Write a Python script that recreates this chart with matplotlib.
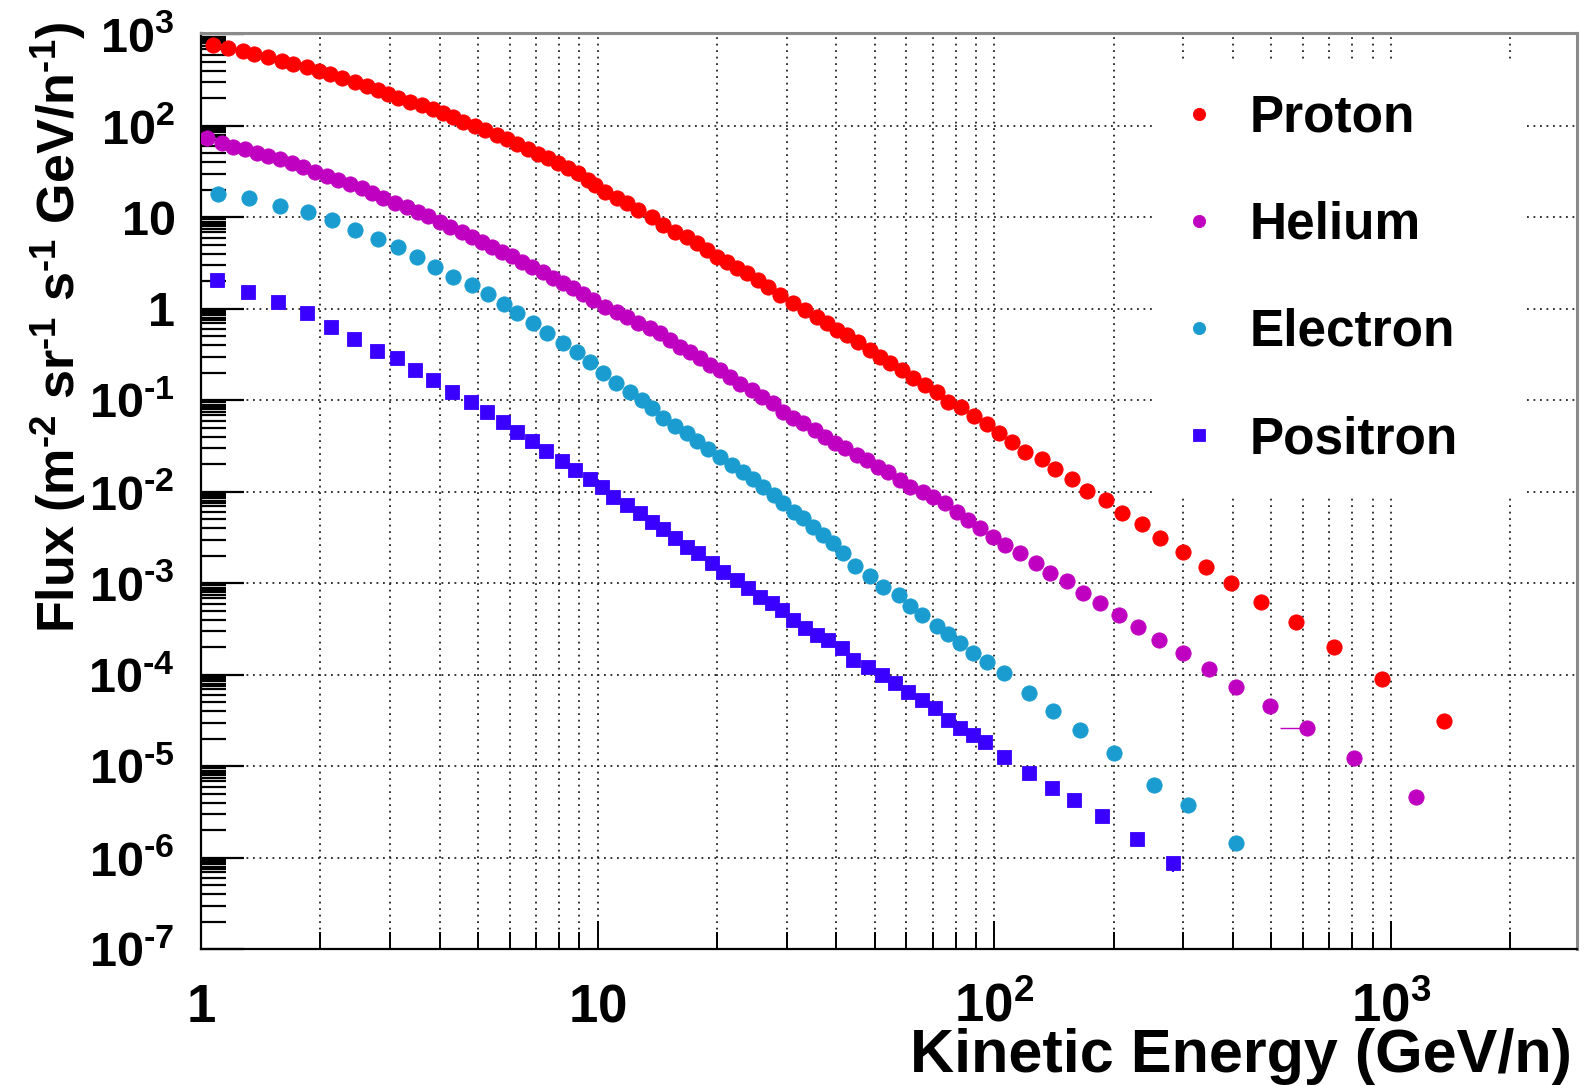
import numpy as np
import matplotlib
matplotlib.use("Agg")
import matplotlib.pyplot as plt
from matplotlib.ticker import FixedLocator, LogLocator, NullFormatter

plt.rcParams['font.family'] = ['Liberation Sans', 'DejaVu Sans']
plt.rcParams['font.weight'] = 'bold'
plt.rcParams['mathtext.fontset'] = 'custom'
plt.rcParams['mathtext.rm'] = 'Liberation Sans:bold'
plt.rcParams['mathtext.it'] = 'Liberation Sans:bold'
plt.rcParams['mathtext.bf'] = 'Liberation Sans:bold'
plt.rcParams['mathtext.default'] = 'rm'

# ---- flux spectra (kinetic energy in GeV/n, flux in m^-2 sr^-1 s^-1 (GeV/n)^-1) ----
proton_E = [1.074, 1.172, 1.279, 1.363, 1.478, 1.598, 1.710, 1.847, 1.985, 2.115,
            2.263, 2.446, 2.617, 2.802, 2.969, 3.146, 3.366, 3.602, 3.855, 4.086,
            4.329, 4.588, 4.911, 5.204, 5.569, 5.902, 6.254, 6.693, 7.093, 7.516,
            7.965, 8.441, 8.948, 9.483, 9.86, 10.45, 11.18, 11.85, 12.68, 13.70,
            14.66, 15.69, 16.79, 17.79, 18.85, 19.98, 21.17, 22.44, 23.78, 25.44,
            26.97, 28.86, 31.18, 33.37, 35.70, 37.84, 40.11, 42.50, 45.48, 48.69,
            51.59, 54.68, 58.50, 62.60, 66.99, 71.70, 76.3, 82.5, 88.8, 95.7,
            102.6, 110.7, 119.7, 131.8, 142.5, 156.9, 171.1, 191.6, 209.7, 236.2,
            262.2, 299.8, 342.5, 396.0, 470.0, 576.0, 720.2, 949.0, 1364]
proton_F = [768, 706, 666, 607, 563, 518, 472, 445, 403, 370,
            332, 303, 274, 247, 224, 204, 184, 169, 152, 137,
            124, 111, 101, 90.3, 79.6, 71.4, 63.0, 55.6, 49.0, 44.3,
            39.0, 34.4, 30.3, 25.6, 22.6, 19.1, 16.2, 14.3, 12.06, 10.2,
            8.27, 6.99, 6.16, 5.21, 4.40, 3.72, 3.28, 2.78, 2.45, 2.07,
            1.75, 1.42, 1.15, 0.970, 0.822, 0.695, 0.588, 0.518, 0.438, 0.355,
            0.300, 0.254, 0.215, 0.174, 0.147, 0.124, 0.0968, 0.0841, 0.0681, 0.0552,
            0.0437, 0.0354, 0.0275, 0.0227, 0.0177, 0.0137, 0.0103, 0.00815, 0.00592, 0.00446,
            0.00316, 0.00222, 0.00152, 0.00102, 0.000626, 0.000375, 0.000200, 9.08e-5, 3.15e-5]

helium_E = [1.033, 1.127, 1.206, 1.291, 1.382, 1.478, 1.582, 1.693, 1.812, 1.939,
            2.075, 2.221, 2.376, 2.543, 2.694, 2.883, 3.086, 3.302, 3.533, 3.745,
            4.008, 4.246, 4.545, 4.816, 5.104, 5.408, 5.732, 6.074, 6.437, 6.823,
            7.301, 7.738, 8.200, 8.690, 9.210, 9.761, 10.44, 11.18, 11.85, 12.68,
            13.57, 14.38, 15.24, 16.15, 17.12, 18.14, 19.22, 20.37, 21.59, 22.88,
            24.48, 25.94, 27.76, 29.42, 31.18, 33.04, 35.36, 37.48, 39.72, 42.10,
            45.05, 47.74, 51.09, 54.14, 57.94, 61.39, 66.3, 70.3, 75.2, 80.5,
            86.1, 92.2, 99.6, 106.6, 116.3, 127.6, 138.4, 152.3, 167.2, 185.1,
            206.1, 230.1, 260.7, 299.8, 347.5, 407.7, 496.7, 613.9, 808.9, 1159.5]
helium_F = [73.2, 65.7, 59.4, 55.5, 51.1, 47.0, 43.2, 39.7, 35.9, 31.6,
            28.4, 25.7, 23.2, 20.8, 18.3, 16.4, 14.5, 13.1, 11.6, 10.4,
            8.99, 7.93, 6.99, 6.16, 5.43, 4.79, 4.22, 3.79, 3.28, 2.90,
            2.55, 2.16, 1.90, 1.68, 1.46, 1.25, 1.06, 0.933, 0.822, 0.707,
            0.613, 0.541, 0.457, 0.386, 0.341, 0.288, 0.243, 0.215, 0.182, 0.153,
            0.130, 0.110, 0.0928, 0.0752, 0.0636, 0.0561, 0.0474, 0.0401, 0.0339, 0.0299,
            0.0253, 0.0223, 0.0188, 0.0166, 0.0135, 0.0114, 0.0099, 0.00885, 0.00748, 0.00607,
            0.00492, 0.00399, 0.00323, 0.00262, 0.00213, 0.00166, 0.00131, 0.00106, 0.000791, 0.000615,
            0.000451, 0.000336, 0.000240, 0.000172, 0.000115, 7.42e-5, 4.57e-5, 2.60e-5, 1.24e-5, 4.66e-6]

electron_E = [1.102, 1.324, 1.582, 1.858, 2.135, 2.446, 2.790, 3.146, 3.499, 3.892,
              4.329, 4.816, 5.284, 5.821, 6.254, 6.890, 7.442, 8.200, 8.862, 9.57,
              10.34, 11.13, 12.08, 12.93, 13.70, 14.66, 15.69, 16.79, 17.79, 19.04,
              20.37, 21.8, 23.3, 24.7, 26.2, 27.8, 29.4, 31.2, 33.0, 35.0,
              37.1, 39.3, 41.7, 44.6, 48.7, 52.6, 57.4, 61.4, 65.7, 71.7,
              76.7, 82.1, 88.7, 95.8, 105.6, 122.6, 140.5, 164.8, 200.7, 252.5,
              307.6, 407.7]
electron_F = [17.9, 16.2, 13.4, 11.6, 9.38, 7.29, 5.76, 4.71, 3.66, 2.90,
              2.25, 1.83, 1.44, 1.13, 0.894, 0.695, 0.541, 0.420, 0.335, 0.265,
              0.201, 0.156, 0.1245, 0.1009, 0.0818, 0.0636, 0.0524, 0.0436, 0.0363, 0.0292,
              0.0242, 0.0197, 0.0166, 0.0137, 0.0114, 0.00923, 0.00748, 0.00607, 0.00513, 0.00416,
              0.00337, 0.00274, 0.00213, 0.00155, 0.00120, 0.000919, 0.000745, 0.000565, 0.000450, 0.000341,
              0.000279, 0.000221, 0.000172, 0.000139, 0.000105, 6.38e-5, 4.06e-5, 2.50e-5, 1.39e-5, 6.25e-6,
              3.78e-6, 1.44e-6]

positron_E = [1.095, 1.316, 1.567, 1.847, 2.128, 2.436, 2.773, 3.115, 3.465, 3.855,
              4.303, 4.797, 5.254, 5.788, 6.254, 6.848, 7.417, 8.121, 8.775, 9.575,
              10.29, 10.96, 11.85, 12.80, 13.70, 14.66, 15.69, 16.79, 17.96, 19.41,
              20.77, 22.44, 24.01, 25.70, 27.50, 29.14, 31.18, 33.37, 35.70, 38.20,
              41.29, 44.18, 48.19, 52.08, 56.28, 60.79, 65.71, 71.00, 76.71, 82.10,
              88.70, 94.92, 105.7, 122.2, 139.6, 159.1, 186.7, 228.7, 281.9]
positron_F = [2.07, 1.54, 1.20, 0.894, 0.629, 0.469, 0.350, 0.288, 0.215, 0.167,
              0.1245, 0.0968, 0.0752, 0.0585, 0.0455, 0.0363, 0.0282, 0.0219, 0.0173, 0.0140,
              0.0112, 0.00885, 0.00718, 0.00582, 0.00472, 0.00389, 0.00310, 0.00252, 0.00213, 0.00165,
              0.00134, 0.00109, 0.000881, 0.000714, 0.000604, 0.000510, 0.000397, 0.000322, 0.000272, 0.000240,
              0.000195, 0.000145, 0.000123, 9.94e-5, 8.06e-5, 6.53e-5, 5.30e-5, 4.30e-5, 3.20e-5, 2.60e-5,
              2.20e-5, 1.86e-5, 1.26e-5, 8.39e-6, 5.75e-6, 4.29e-6, 2.87e-6, 1.59e-6, 8.84e-7]

# isolated error bars on two points
helium_bar_E = [613.9]
helium_bar_F = [2.60e-5]
helium_bar_xlow = [87.5]
positron_bar_E = [281.9]
positron_bar_F = [8.84e-7]
positron_bar_ylow = [1.8e-7]

series_names = ["Proton", "Helium", "Electron", "Positron"]
series_colors = ["#FF0000", "#C000C0", "#1A9CD0", "#3A00FF"]

HY = '\u2010'  # short hyphen used for negative exponents
y_tick_values = [1e-7, 1e-6, 1e-5, 1e-4, 1e-3, 1e-2, 1e-1, 1, 10, 100, 1000]
y_tick_labels = ['$10^{' + HY + '7}$', '$10^{' + HY + '6}$', '$10^{' + HY + '5}$',
                 '$10^{' + HY + '4}$', '$10^{' + HY + '3}$', '$10^{' + HY + '2}$',
                 '$10^{' + HY + '1}$', r'$1\;\,$', r'$10\;\,$', '$10^{2}$', '$10^{3}$']
x_tick_values = [1, 10, 100, 1000]
x_tick_labels = ['$1$', '$10$', '$10^{2}$', '$10^{3}$']

# ---- figure ----
W, H = 1585, 1086
fig = plt.figure(figsize=(W / 100, H / 100), dpi=100)
ax_l, ax_r, ax_t, ax_b = 201, 1577, 33.3, 949.3
ax = fig.add_axes([ax_l / W, 1 - ax_b / H, (ax_r - ax_l) / W, (ax_b - ax_t) / H])
ax.set_xscale('log')
ax.set_yscale('log')
ax.set_xlim(1, 2950)
ax.set_ylim(1e-7, 1030)

data = [(proton_E, proton_F, 'o', 11.0),
        (helium_E, helium_F, 'o', 11.0),
        (electron_E, electron_F, 'o', 11.0),
        (positron_E, positron_F, 's', 10.0)]
handles = []
for (E, F, mk, ms), name, col in zip(data, series_names, series_colors):
    h, = ax.plot(E, F, linestyle='none', marker=mk, ms=ms, color=col,
                 markeredgewidth=0.6, markeredgecolor=col, label=name, zorder=3)
    handles.append(h)

ax.errorbar(helium_bar_E, helium_bar_F, xerr=[helium_bar_xlow, [0]], fmt='none',
            ecolor=series_colors[1], elinewidth=1.0, capsize=0, zorder=2)
ax.errorbar(positron_bar_E, positron_bar_F, yerr=[positron_bar_ylow, [0]], fmt='none',
            ecolor=series_colors[3], elinewidth=1.5, capsize=0, zorder=2)

# ---- axes styling ----
ax.xaxis.set_major_locator(FixedLocator(x_tick_values))
ax.xaxis.set_minor_locator(LogLocator(base=10, subs=np.arange(2, 10), numticks=30))
ax.xaxis.set_minor_formatter(NullFormatter())
ax.set_xticks(x_tick_values)
ax.set_xticklabels(x_tick_labels)

ax.yaxis.set_major_locator(FixedLocator(y_tick_values))
ax.yaxis.set_minor_locator(LogLocator(base=10, subs=[2, 3, 4, 5, 6, 7, 7.5, 8, 8.5, 9, 9.5],
                                      numticks=40))
ax.yaxis.set_minor_formatter(NullFormatter())
ax.set_yticks(y_tick_values)
ax.set_yticklabels(y_tick_labels)

grid_kw = dict(color='#222222', linewidth=1.3, linestyle=(0, (1, 2.6)))
ax.grid(True, which='both', axis='x', **grid_kw)
ax.grid(True, which='major', axis='y', **grid_kw)
ax.set_axisbelow(True)

ax.tick_params(axis='both', which='both', direction='in', top=False, right=False,
               colors='black')
ax.tick_params(axis='y', which='major', length=31, width=1.6, pad=19, labelsize=35)
ax.tick_params(axis='y', which='minor', length=18, width=1.6)
ax.tick_params(axis='x', which='major', length=20, width=1.4, pad=52, labelsize=38)
ax.tick_params(axis='x', which='minor', length=12, width=1.4)
for t in ax.xaxis.get_major_ticks():
    t.label1.set_verticalalignment('baseline')

for side in ('left', 'bottom'):
    ax.spines[side].set_color('black')
    ax.spines[side].set_linewidth(1.6)
for side in ('top', 'right'):
    ax.spines[side].set_color('#8a8a8a')
    ax.spines[side].set_linewidth(2.2)

ax.set_xlabel('Kinetic Energy (GeV/n)', fontsize=44, fontweight='bold',
              ha='right', va='baseline')
ax.xaxis.set_label_coords(0.9964, -0.134)

fig.text(58 / W, 1 - 22 / H,
         'Flux (m$^{' + HY + '2}$ sr$^{' + HY + '1}$ s$^{' + HY + '1}$ GeV/n$^{' + HY + '1}$)',
         rotation=90, rotation_mode='anchor', ha='right', va='center',
         fontsize=37.5, fontweight='bold')

leg = ax.legend(handles=handles, loc='upper left',
                bbox_to_anchor=(0.692, 0.5123, 0.272, 0.4553), mode='expand',
                frameon=True, fancybox=False, facecolor='white', edgecolor='none',
                framealpha=1.0, fontsize=37, borderpad=0.6, handlelength=0.58,
                handletextpad=0.7, labelspacing=1.13, numpoints=1,
                borderaxespad=0.0, markerscale=0.8)
leg.set_zorder(5)

fig.savefig('out.png', dpi=100, facecolor='white')
